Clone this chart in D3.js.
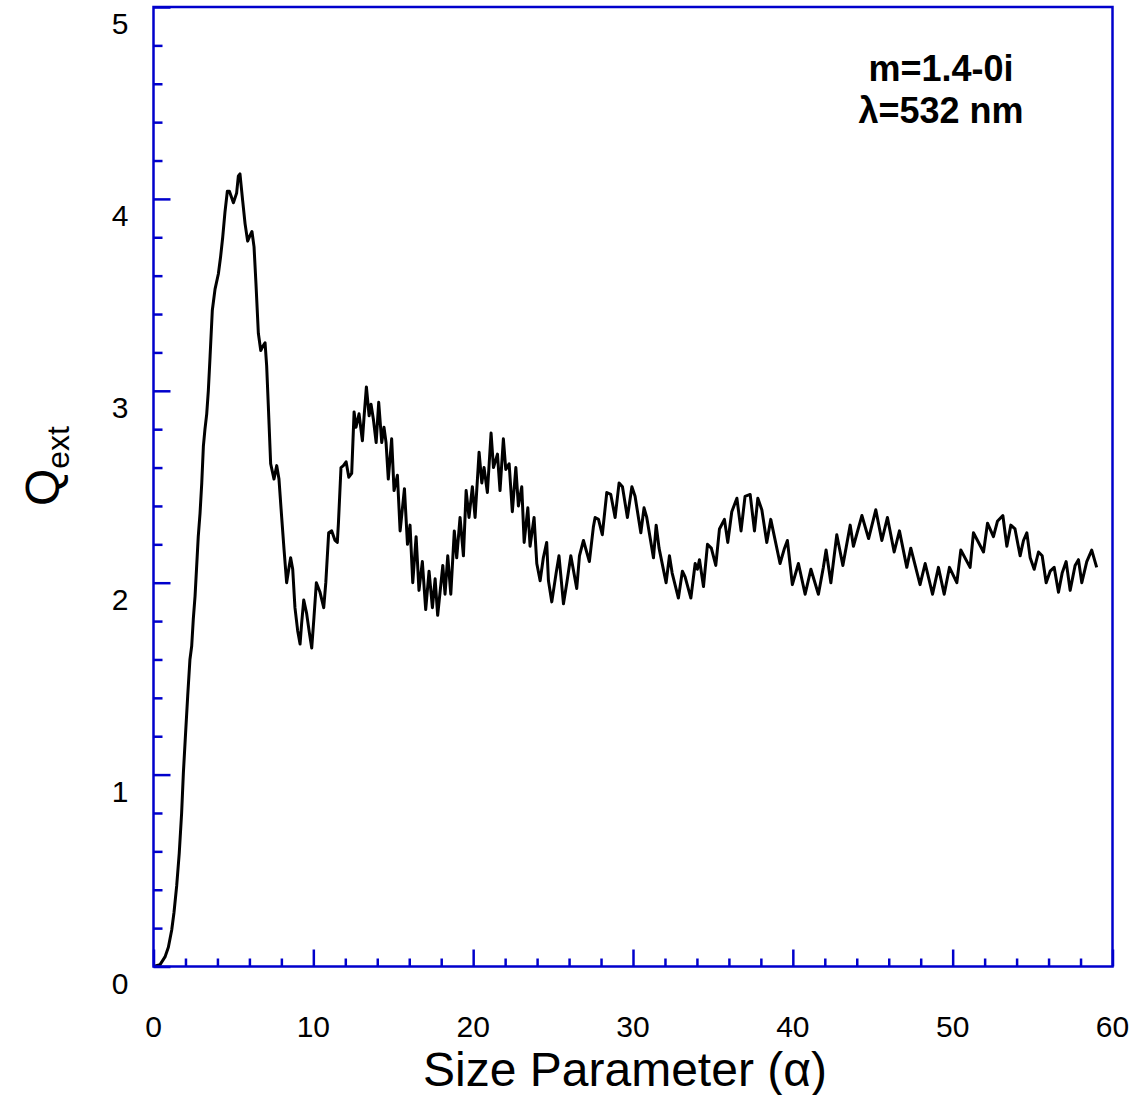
<!DOCTYPE html>
<html>
<head>
<meta charset="utf-8">
<script src="https://cdn.jsdelivr.net/npm/d3@7"></script>
<style>
  body { margin: 0; background: #fff; }
  svg text { font-family: "Liberation Sans", Arial, Helvetica, sans-serif; }
</style>
</head>
<body>
<div id="chart"></div>
<script>
const WIDTH = 1134;
const HEIGHT = 1095;
const margin = { top: 7, right: 21.5, bottom: 128.5, left: 153.5 };
const width = WIDTH - margin.left - margin.right;
const height = HEIGHT - margin.top - margin.bottom;

// size parameter (alpha)
const alpha = [
  0, 0.41, 0.72, 0.93, 1.14, 1.28, 1.45, 1.61, 1.76, 1.87, 2.01, 2.14, 2.28, 2.39, 2.49, 2.6,
  2.8, 2.91, 3.02, 3.12, 3.22, 3.33, 3.43, 3.54, 3.68, 3.85, 4.06, 4.2, 4.33, 4.47, 4.62, 4.75,
  5.0, 5.2, 5.31, 5.41, 5.58, 5.73, 5.89, 6.04, 6.16, 6.29, 6.41, 6.56, 6.71, 6.83, 6.98, 7.08,
  7.18, 7.33, 7.54, 7.71, 7.85, 8.02, 8.17, 8.33, 8.48, 8.58, 8.71, 8.85, 9.02, 9.17, 9.27, 9.4,
  9.58, 9.75, 9.9, 10.04, 10.19, 10.42, 10.65, 10.78, 10.96, 11.15, 11.36, 11.5, 11.57, 11.73,
  11.88, 12.05, 12.22, 12.4, 12.55, 12.67, 12.86, 13.07, 13.17, 13.32, 13.49, 13.61, 13.76,
  13.93, 14.09, 14.28, 14.42, 14.55, 14.69, 14.9, 15.05, 15.26, 15.43, 15.7, 15.89, 16.05,
  16.22, 16.43, 16.61, 16.82, 17.03, 17.24, 17.45, 17.62, 17.78, 18.1, 18.24, 18.41, 18.6,
  18.82, 18.97, 19.18, 19.39, 19.56, 19.74, 19.95, 20.12, 20.37, 20.54, 20.68, 20.89, 21.12,
  21.27, 21.52, 21.68, 21.89, 22.04, 22.25, 22.45, 22.67, 22.83, 23.04, 23.19, 23.42, 23.56,
  23.81, 23.98, 24.19, 24.39, 24.6, 24.71, 24.92, 25.19, 25.37, 25.65, 25.86, 26.11, 26.48,
  26.65, 26.9, 27.27, 27.52, 27.63, 27.84, 28.08, 28.36, 28.61, 28.88, 29.13, 29.34, 29.65,
  29.93, 30.13, 30.49, 30.69, 30.86, 31.28, 31.45, 31.63, 32.07, 32.28, 32.45, 32.84, 33.09,
  33.26, 33.62, 33.89, 34.03, 34.16, 34.41, 34.66, 34.9, 35.18, 35.41, 35.72, 35.93, 36.18,
  36.5, 36.76, 37.01, 37.33, 37.6, 37.81, 38.06, 38.37, 38.62, 39.2, 39.48, 39.66, 39.97,
  40.35, 40.77, 41.13, 41.6, 41.91, 42.08, 42.38, 42.75, 43.13, 43.59, 43.79, 44.32, 44.74,
  45.19, 45.57, 45.92, 46.34, 46.67, 47.13, 47.38, 47.96, 48.28, 48.74, 49.11, 49.47, 49.8,
  50.26, 50.51, 51.09, 51.3, 51.93, 52.18, 52.55, 52.8, 53.14, 53.39, 53.64, 53.9, 54.22,
  54.43, 54.64, 54.85, 55.1, 55.37, 55.6, 55.85, 56.1, 56.35, 56.62, 56.85, 57.1, 57.35,
  57.66, 57.87, 58.08, 58.39, 58.7, 59.01
];

// extinction efficiency Q_ext at each alpha
const qext = [
  0, 0.01, 0.05, 0.10, 0.19, 0.28, 0.42, 0.59, 0.80, 1.01, 1.22, 1.41, 1.60, 1.67, 1.81, 1.93,
  2.24, 2.36, 2.52, 2.71, 2.80, 2.88, 3.00, 3.18, 3.42, 3.53, 3.61, 3.70, 3.80, 3.93, 4.04, 4.04,
  3.98, 4.03, 4.12, 4.13, 3.99, 3.87, 3.78, 3.81, 3.83, 3.75, 3.56, 3.30, 3.21, 3.23, 3.25, 3.13,
  2.93, 2.62, 2.54, 2.61, 2.54, 2.34, 2.17, 2.00, 2.08, 2.13, 2.07, 1.87, 1.75, 1.68, 1.79, 1.91,
  1.84, 1.74, 1.66, 1.82, 2.00, 1.95, 1.87, 2.00, 2.26, 2.27, 2.22, 2.21, 2.31, 2.60,
  2.61, 2.63, 2.55, 2.57, 2.89, 2.81, 2.88, 2.74, 2.86, 3.02, 2.87, 2.93, 2.85,
  2.73, 2.94, 2.73, 2.81, 2.73, 2.54, 2.75, 2.48, 2.56, 2.27, 2.49, 2.20, 2.30,
  2.00, 2.24, 1.96, 2.11, 1.86, 2.06, 1.87, 2.02, 1.83, 2.09, 1.94, 2.14, 1.94,
  2.27, 2.13, 2.34, 2.14, 2.48, 2.34, 2.50, 2.34, 2.68, 2.52, 2.60, 2.47, 2.78,
  2.60, 2.67, 2.48, 2.75, 2.59, 2.62, 2.37, 2.60, 2.40, 2.50, 2.21, 2.39, 2.19,
  2.34, 2.10, 2.01, 2.13, 2.21, 2.01, 1.90, 2.05, 2.14, 1.89, 2.00, 2.14, 1.97,
  2.14, 2.22, 2.11, 2.29, 2.34, 2.33, 2.25, 2.47, 2.46, 2.34, 2.52, 2.50, 2.34,
  2.50, 2.45, 2.26, 2.39, 2.34, 2.13, 2.30, 2.18, 2.00, 2.14, 2.05, 1.92, 2.06,
  2.03, 1.92, 2.10, 2.07, 2.12, 1.98, 2.20, 2.18, 2.09, 2.28, 2.33, 2.21, 2.37,
  2.44, 2.27, 2.45, 2.46, 2.27, 2.44, 2.38, 2.21, 2.33, 2.10, 2.18, 2.22, 1.99,
  2.10, 1.94, 2.07, 1.94, 2.08, 2.17, 2.00, 2.25, 2.09, 2.30, 2.19, 2.35, 2.23,
  2.38, 2.22, 2.34, 2.16, 2.27, 2.08, 2.18, 1.99, 2.10, 1.94, 2.08, 1.94, 2.08,
  2.00, 2.17, 2.08, 2.26, 2.16, 2.31, 2.24, 2.32, 2.35, 2.19, 2.30, 2.28, 2.14,
  2.22, 2.26, 2.13, 2.07, 2.16, 2.14, 2.00, 2.06, 2.08, 1.95, 2.05, 2.11, 1.96,
  2.09, 2.12, 2.00, 2.11, 2.17, 2.08
];

const xMajor = [0, 10, 20, 30, 40, 50, 60];
const yMajor = [0, 1, 2, 3, 4, 5];
const annotation = ["m=1.4-0i", "\u03bb=532 nm"];

const AXIS_COLOR = "#0000cc";

const svg = d3.select("#chart")
  .append("svg")
  .attr("width", WIDTH)
  .attr("height", HEIGHT);

const g = svg.append("g")
  .attr("transform", `translate(${margin.left},${margin.top})`);

const x = d3.scaleLinear().domain([0, 60]).range([0, width]);
const y = d3.scaleLinear().domain([0, 5]).range([height, 0]);

drawCurve(g);
drawAxes(g);
drawLabels(svg, g);

function drawCurve(g) {
  const pts = alpha.map((a, i) => [a, qext[i]]);
  g.append("path")
    .datum(pts)
    .attr("fill", "none")
    .attr("stroke", "#000")
    .attr("stroke-width", 3)
    .attr("stroke-linejoin", "round")
    .attr("d", d3.line().x(d => x(d[0])).y(d => y(d[1])));
}

function drawAxes(g) {
  // frame
  g.append("rect")
    .attr("x", 0).attr("y", 0)
    .attr("width", width).attr("height", height)
    .attr("fill", "none")
    .attr("stroke", AXIS_COLOR)
    .attr("stroke-width", 2.5);

  // inward ticks, bottom
  const xa = g.append("g")
    .attr("transform", `translate(0,${height})`)
    .call(d3.axisBottom(x).tickValues(d3.range(0, 61, 2)).tickSize(0).tickFormat(""));
  xa.select(".domain").remove();
  xa.selectAll(".tick line")
    .attr("y2", d => d % 10 === 0 ? -17 : -8)
    .attr("stroke", AXIS_COLOR)
    .attr("stroke-width", 2.5);

  // inward ticks, left
  const ya = g.append("g")
    .call(d3.axisLeft(y).tickValues(d3.range(0, 26).map(i => i / 5)).tickSize(0).tickFormat(""));
  ya.select(".domain").remove();
  ya.selectAll(".tick line")
    .attr("x2", (d, i) => i % 5 === 0 ? 17 : 9)
    .attr("stroke", AXIS_COLOR)
    .attr("stroke-width", 2.5);

  // tick labels
  g.selectAll(".xlab")
    .data(xMajor)
    .enter()
    .append("text")
    .attr("x", d => x(d))
    .attr("y", height + 70)
    .attr("text-anchor", "middle")
    .style("font-size", "30px")
    .text(d => d);

  g.selectAll(".ylab")
    .data(yMajor)
    .enter()
    .append("text")
    .attr("x", -25)
    .attr("y", d => y(d) + 27)
    .attr("text-anchor", "end")
    .style("font-size", "30px")
    .text(d => d);
}

function drawLabels(svg, g) {
  // X title
  svg.append("text")
    .attr("x", 625)
    .attr("y", 1086)
    .attr("text-anchor", "middle")
    .style("font-size", "48px")
    .text("Size Parameter (\u03b1)");

  // Y title, Q with subscript
  const yt = svg.append("text")
    .attr("transform", `translate(59,466) rotate(-90)`)
    .attr("text-anchor", "middle")
    .style("font-size", "48px");
  yt.append("tspan").text("Q");
  yt.append("tspan").attr("dy", 10).style("font-size", "32px").text("ext");

  // annotation
  g.selectAll(".note")
    .data(annotation)
    .enter()
    .append("text")
    .attr("x", 941 - margin.left)
    .attr("y", (d, i) => 81 + i * 42 - margin.top)
    .attr("text-anchor", "middle")
    .style("font-size", "36px")
    .style("font-weight", "bold")
    .text(d => d);
}
</script>
</body>
</html>
